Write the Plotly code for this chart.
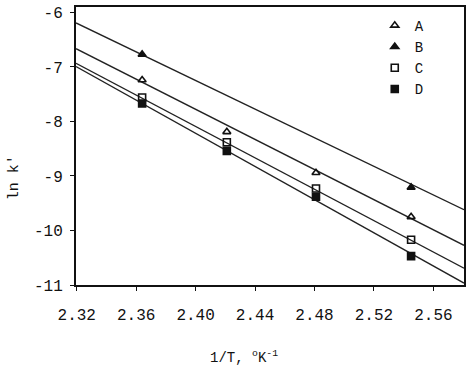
import numpy as np
import plotly.graph_objects as go

# ---- data ----
series_names = ["A", "B", "C", "D"]
x_A = [2.364, 2.421, 2.481, 2.545]
y_A = [-7.24, -8.19, -8.94, -9.75]
x_B = [2.364, 2.545]
y_B = [-6.77, -9.21]
x_C = [2.364, 2.421, 2.481, 2.545]
y_C = [-7.56, -8.38, -9.23, -10.17]
x_D = [2.364, 2.421, 2.481, 2.545]
y_D = [-7.67, -8.54, -9.38, -10.47]

# fitted regression lines: ln k' = fit_at_232 + fit_slope * (1/T - 2.32)
fit_at_232 = {"A": -6.67, "B": -6.20, "C": -6.94, "D": -7.00}
fit_slope = {"A": -13.82, "B": -13.12, "C": -14.40, "D": -15.21}

x_ticks = [2.32, 2.36, 2.40, 2.44, 2.48, 2.52, 2.56]
x_ticktext = ["2.32", "2.36", "2.40", "2.44", "2.48", "2.52", "2.56"]
y_ticks = [-6, -7, -8, -9, -10, -11]
y_ticktext = ["-6", "-7", "-8", "-9", "-10", "-11"]

X_RANGE = [2.3195, 2.5806]
Y_RANGE = [-11.0, -5.9]

FONT = "Liberation Mono, Courier New, monospace"

symbols = {"A": "triangle-up-open", "B": "triangle-up", "C": "square-open", "D": "square"}
xs = {"A": x_A, "B": x_B, "C": x_C, "D": x_D}
ys = {"A": y_A, "B": y_B, "C": y_C, "D": y_D}

fig = go.Figure()

# regression lines
for name in ["B", "A", "C", "D"]:
    lx = np.array(X_RANGE)
    ly = fit_at_232[name] + fit_slope[name] * (lx - 2.32)
    fig.add_trace(go.Scatter(x=lx, y=ly, mode="lines",
                             line=dict(color="#222", width=1.4),
                             showlegend=False, hoverinfo="skip"))

# data points
for name in series_names:
    fig.add_trace(go.Scatter(
        x=xs[name], y=ys[name], mode="markers", name=name,
        marker=dict(symbol=symbols[name], size=7, color="#111",
                    line=dict(color="#111", width=1.6)),
    ))

fig.update_layout(
    width=471, height=366,
    margin=dict(l=76, r=5, t=7, b=81),
    paper_bgcolor="white", plot_bgcolor="white",
    font=dict(family=FONT, size=15, color="#111"),
    showlegend=True,
    legend=dict(x=0.77, y=0.99, xanchor="left", yanchor="top",
                bgcolor="rgba(0,0,0,0)", borderwidth=0,
                font=dict(family=FONT, size=14, color="#111"),
                itemwidth=30, tracegroupgap=0),
)

fig.update_xaxes(range=X_RANGE, tickvals=x_ticks, ticktext=x_ticktext,
                 showgrid=False, zeroline=False, showline=True, mirror=True,
                 linecolor="#111", linewidth=2, ticks="outside", ticklen=4,
                 ticklabelstandoff=10,
                 tickcolor="#111", tickfont=dict(family=FONT, size=16))
fig.update_yaxes(range=Y_RANGE, tickvals=y_ticks, ticktext=y_ticktext,
                 showgrid=False, zeroline=False, showline=True, mirror=True,
                 linecolor="#111", linewidth=2, ticks="outside", ticklen=4,
                 ticklabelstandoff=4,
                 tickcolor="#111", tickfont=dict(family=FONT, size=16))

# axis titles as annotations (positioned like the reference)
fig.add_annotation(text="1/T, <sup>o</sup>K<sup>-1</sup>", xref="paper", yref="paper",
                   x=(245 - 76) / 390, y=-(357 - 285) / 278, showarrow=False,
                   xanchor="center", yanchor="middle",
                   font=dict(family=FONT, size=14, color="#111"))
fig.add_annotation(text="ln k'", xref="paper", yref="paper",
                   x=-(76 - 14) / 390, y=(285 - 178) / 278, showarrow=False,
                   textangle=-90, xanchor="center", yanchor="middle",
                   font=dict(family=FONT, size=15, color="#111"))

fig.write_html("out.html")
